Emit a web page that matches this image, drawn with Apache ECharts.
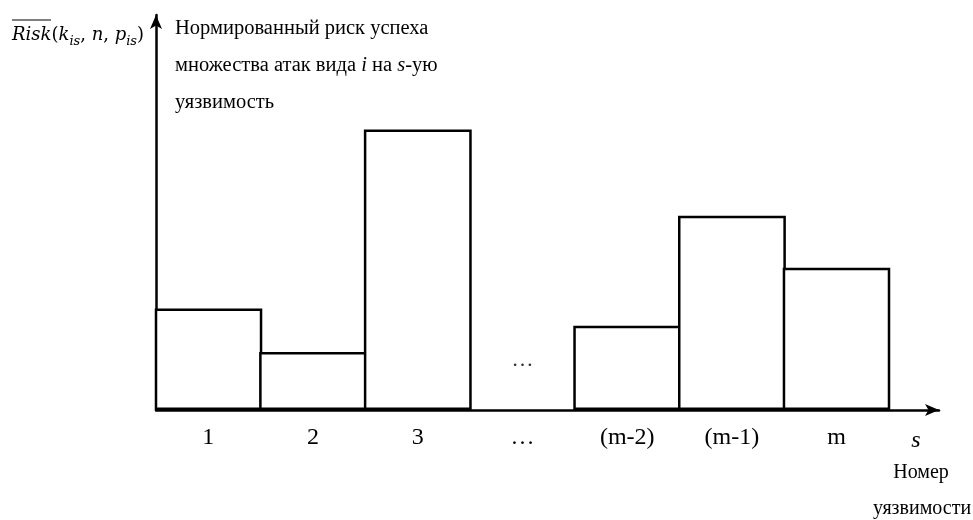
<!DOCTYPE html>
<html lang="ru">
<head>
    <meta charset="UTF-8">
    <title>Нормированный риск</title>
    <script src="https://cdn.jsdelivr.net/npm/echarts@6/dist/echarts.min.js"></script>
    <style>
        * {
            margin: 0;
            padding: 0;
        }
        html,body{
            height: 100%;
            background: #fff;
        }
    </style>
</head>
<body>
<div id="main" style="width: 973px;height: 520px"></div>
<script>
    // номера уязвимостей и нормированный риск
    var categories = ['1', '2', '3', '…', '(m-2)', '(m-1)', 'm'];
    var riskValues = [0.257, 0.147, 0.71, null, 0.213, 0.492, 0.36];
    // уровень многоточия в пропущенном столбце
    var gapMark = [null, null, null, 0.127, null, null, null];

    var serif = 'Liberation Serif';
    var mathFont = 'DejaVu Serif';
    var myChart = echarts.init(document.getElementById('main'));

    var option = {
        backgroundColor: '#fff',
        animation: false,
        title: [{
            text: 'Нормированный риск успеха\nмножества атак вида {it|i} на {it|s}-ую\nуязвимость',
            left: 170,
            top: 5,
            textStyle: {
                fontFamily: serif,
                fontSize: 20.5,
                fontWeight: 'normal',
                color: '#000',
                lineHeight: 37,
                rich: {
                    it: {fontFamily: serif, fontStyle: 'italic', fontWeight: 'normal', fontSize: 20.5, lineHeight: 37, color: '#000'}
                }
            }
        }, {
            text: '{r|Risk}{n|(}{r|k}{s|is}{n|, }{r|n}{n|, }{r|p}{s|is}{n|)}',
            left: 7,
            top: 17,
            textStyle: {
                rich: {
                    r: {fontFamily: mathFont, fontStyle: 'italic', fontWeight: 'normal', fontSize: 18, color: '#000', lineHeight: 26},
                    n: {fontFamily: mathFont, fontWeight: 'normal', fontSize: 18, color: '#000', lineHeight: 26},
                    s: {fontFamily: mathFont, fontStyle: 'italic', fontWeight: 'normal', fontSize: 13, color: '#000', lineHeight: 26, verticalAlign: 'bottom', padding: [9, 0, 0, 0]}
                }
            }
        }],
        graphic: [{
            type: 'line',
            shape: {x1: 12, y1: 20, x2: 51, y2: 20},
            style: {stroke: '#000', lineWidth: 1.2}
        }, {
            type: 'text',
            x: 916,
            y: 441,
            style: {text: 's', fontFamily: serif, fontStyle: 'italic', fontSize: 24, fill: '#000', align: 'center', verticalAlign: 'middle'}
        }, {
            type: 'text',
            x: 921,
            y: 473,
            style: {text: 'Номер', fontFamily: serif, fontSize: 20, fill: '#000', align: 'center', verticalAlign: 'middle'}
        }, {
            type: 'text',
            x: 922,
            y: 509,
            style: {text: 'уязвимости', fontFamily: serif, fontSize: 20, fill: '#000', align: 'center', verticalAlign: 'middle'}
        }],
        grid: [
            {left: 156, right: 84, top: 15, bottom: 110},
            {left: 156, right: 34, top: 15, bottom: 110}
        ],
        xAxis: [{
            type: 'category',
            gridIndex: 0,
            data: categories,
            axisLine: {show: false},
            axisTick: {show: false},
            axisLabel: {fontFamily: serif, fontSize: 24, color: '#000', margin: 16}
        }, {
            type: 'value',
            gridIndex: 1,
            min: 0,
            max: 1,
            axisLine: {
                show: true,
                symbol: ['none', 'arrow'],
                symbolSize: [9, 14],
                lineStyle: {color: '#000', width: 2.5}
            },
            axisTick: {show: false},
            axisLabel: {show: false},
            splitLine: {show: false}
        }],
        yAxis: [{
            type: 'value',
            gridIndex: 0,
            min: 0,
            max: 1,
            axisLine: {
                show: true,
                symbol: ['none', 'arrow'],
                symbolSize: [9, 14],
                lineStyle: {color: '#000', width: 2.5}
            },
            axisTick: {show: false},
            axisLabel: {show: false},
            splitLine: {show: false}
        }, {
            type: 'value',
            gridIndex: 1,
            min: 0,
            max: 1,
            show: false
        }],
        series: [{
            type: 'bar',
            xAxisIndex: 0,
            yAxisIndex: 0,
            data: riskValues,
            barWidth: '103%',
            itemStyle: {color: '#fff', borderColor: '#000', borderWidth: 2.5}
        }, {
            type: 'scatter',
            xAxisIndex: 0,
            yAxisIndex: 0,
            data: gapMark,
            symbolSize: 0,
            label: {
                show: true,
                position: 'inside',
                formatter: '…',
                fontFamily: serif,
                fontSize: 22,
                color: '#000'
            }
        }]
    };

    myChart.setOption(option);
</script>
</body>
</html>
